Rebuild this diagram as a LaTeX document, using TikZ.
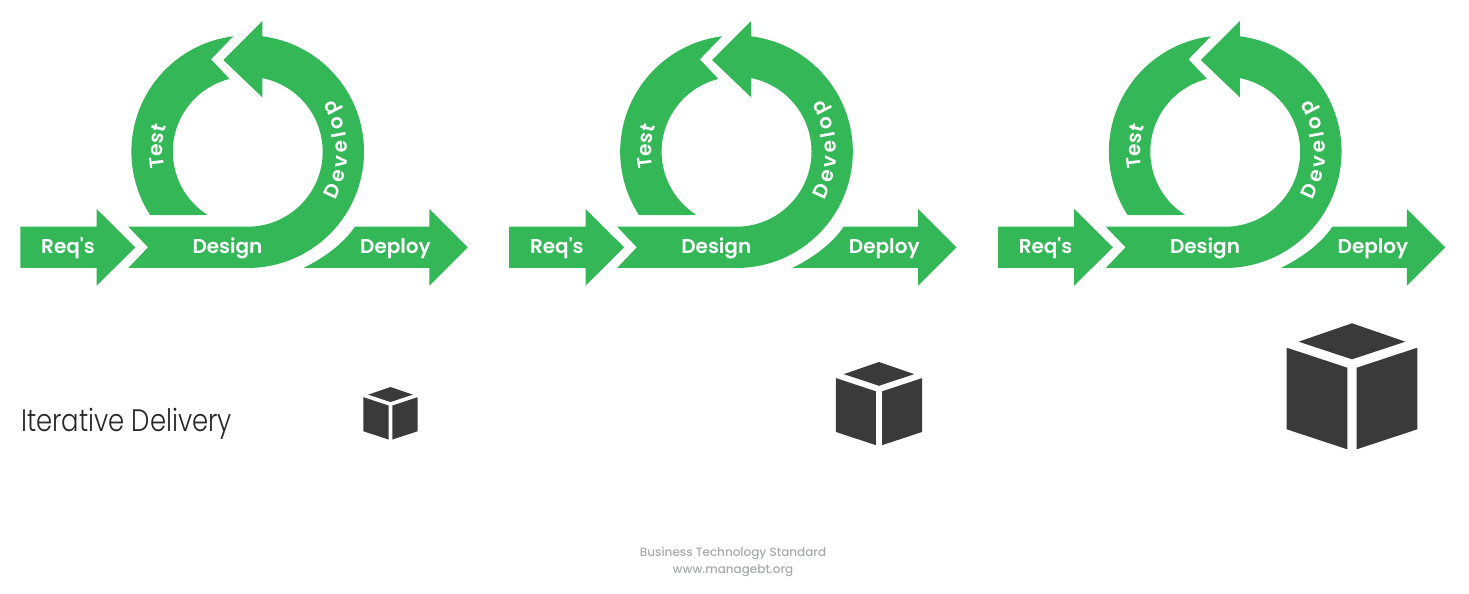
\documentclass[tikz,border=0pt]{standalone}
\usepackage{fontspec}
\usetikzlibrary{decorations.text}
\setmainfont{Poppins}
\newfontfamily\labfont{Poppins}[UprightFont=* SemiBold]
\newfontfamily\footfont{Poppins}[UprightFont=* Medium]
\newfontfamily\thinfont{Poppins}[UprightFont=* Light]
\definecolor{grn}{RGB}{51,183,87}
\definecolor{cubec}{RGB}{58,58,58}
\definecolor{foot}{RGB}{167,169,172}
\tikzset{
  shapefill/.style={fill=grn,draw=none},
  steplabel/.style={text=white,font=\labfont\fontsize{20}{20}\selectfont,inner sep=0pt,anchor=base},
  cubeface/.style={fill=cubec,draw=none},
}
\newcommand{\cyclegroup}[2]{%
\begin{scope}[xshift=#1pt]
 \fill[shapefill] (20.3,367.3) -- (96.7,367.3) -- (96.7,385) -- (135.3,346.7) -- (96.7,308.3) -- (96.7,326) -- (20.3,326) -- cycle;
 \fill[shapefill] (128.3,367.3) -- (247.7,367.3) arc[start angle=-90,end angle=78.8,radius=75] -- (262.3,496.7) -- (223.3,534) -- (262.3,573) -- (262.3,557.7) arc[start angle=82.8,end angle=-90,radius=116.3] -- (128.3,326) -- (148,346.7) -- cycle;
 \fill[shapefill] (207.6,379) arc[start angle=237.6,end angle=104.1,radius=75] -- (211,534.7) -- (233.3,557.7) arc[start angle=97.1,end angle=213,radius=116.3] -- cycle;
 \fill[shapefill] (303.3,326) .. controls (323.1,335.6) and (342.4,349.3) .. (355,367.3) -- (429.3,367.3) -- (429.3,385) -- (467.7,346.7) -- (429.3,308.3) -- (429.3,326) -- cycle;
 \node[steplabel] (req#2) at (68,340.5) {Req's};
 \node[steplabel] (des#2) at (227.5,340.5) {Design};
 \node[steplabel] (dep#2) at (395.5,340.5) {Deploy};
 \path[postaction={decorate,decoration={text along path,text align={fit to path},text={|\labfont\fontsize{20}{20}\selectfont\color{white}|Test}}}]
   (247.7,442.3) ++(191:85) arc[start angle=191,end angle=163,radius=85];
 \path[postaction={decorate,decoration={text along path,text align={fit to path},text={|\labfont\fontsize{20}{20}\selectfont\color{white}|Develop}}}]
   (247.7,442.3) ++(-29:100) arc[start angle=-29,end angle=31.5,radius=100];
\end{scope}}
\newcommand{\cubeicon}[4]{% cx, top y (up coords), scale, name
\begin{scope}[shift={(#1,#2)},x=#3pt,y=#3pt]
 \fill[cubeface] (0,0) -- (53.4,-18.4) -- (0,-36) -- (-53.4,-18.4) -- cycle;
 \fill[cubeface] (-65.3,-24.4) -- (-4.7,-44.4) -- (-4.7,-126) -- (-65.3,-106) -- cycle;
 \fill[cubeface] (65.3,-24.4) -- (4.7,-44.4) -- (4.7,-126) -- (65.3,-106) -- cycle;
\end{scope}}
\begin{document}
\begin{tikzpicture}[x=1pt,y=1pt]
 \useasboundingbox (0,0) rectangle (1469,594);
 \cyclegroup{0}{a}
 \cyclegroup{488.8}{b}
 \cyclegroup{977.5}{c}
 \cubeicon{390.5}{207}{0.417}{ca}
 \cubeicon{879}{232}{0.66}{cb}
 \cubeicon{1352}{270.7}{1}{cc}
 \node[anchor=base west,inner sep=0pt,text=black!85,xscale=0.836,transform shape,font=\thinfont\fontsize{31}{31}\selectfont] (title) at (21,162.5) {Iterative Delivery};
 \node[anchor=base,inner sep=0pt,text=foot,font=\footfont\fontsize{12}{12}\selectfont] (foot1) at (733,37) {Business Technology Standard};
 \node[anchor=base,inner sep=0pt,text=foot,font=\footfont\fontsize{12}{12}\selectfont] (foot2) at (733,20.5) {www.managebt.org};
\end{tikzpicture}
\end{document}
